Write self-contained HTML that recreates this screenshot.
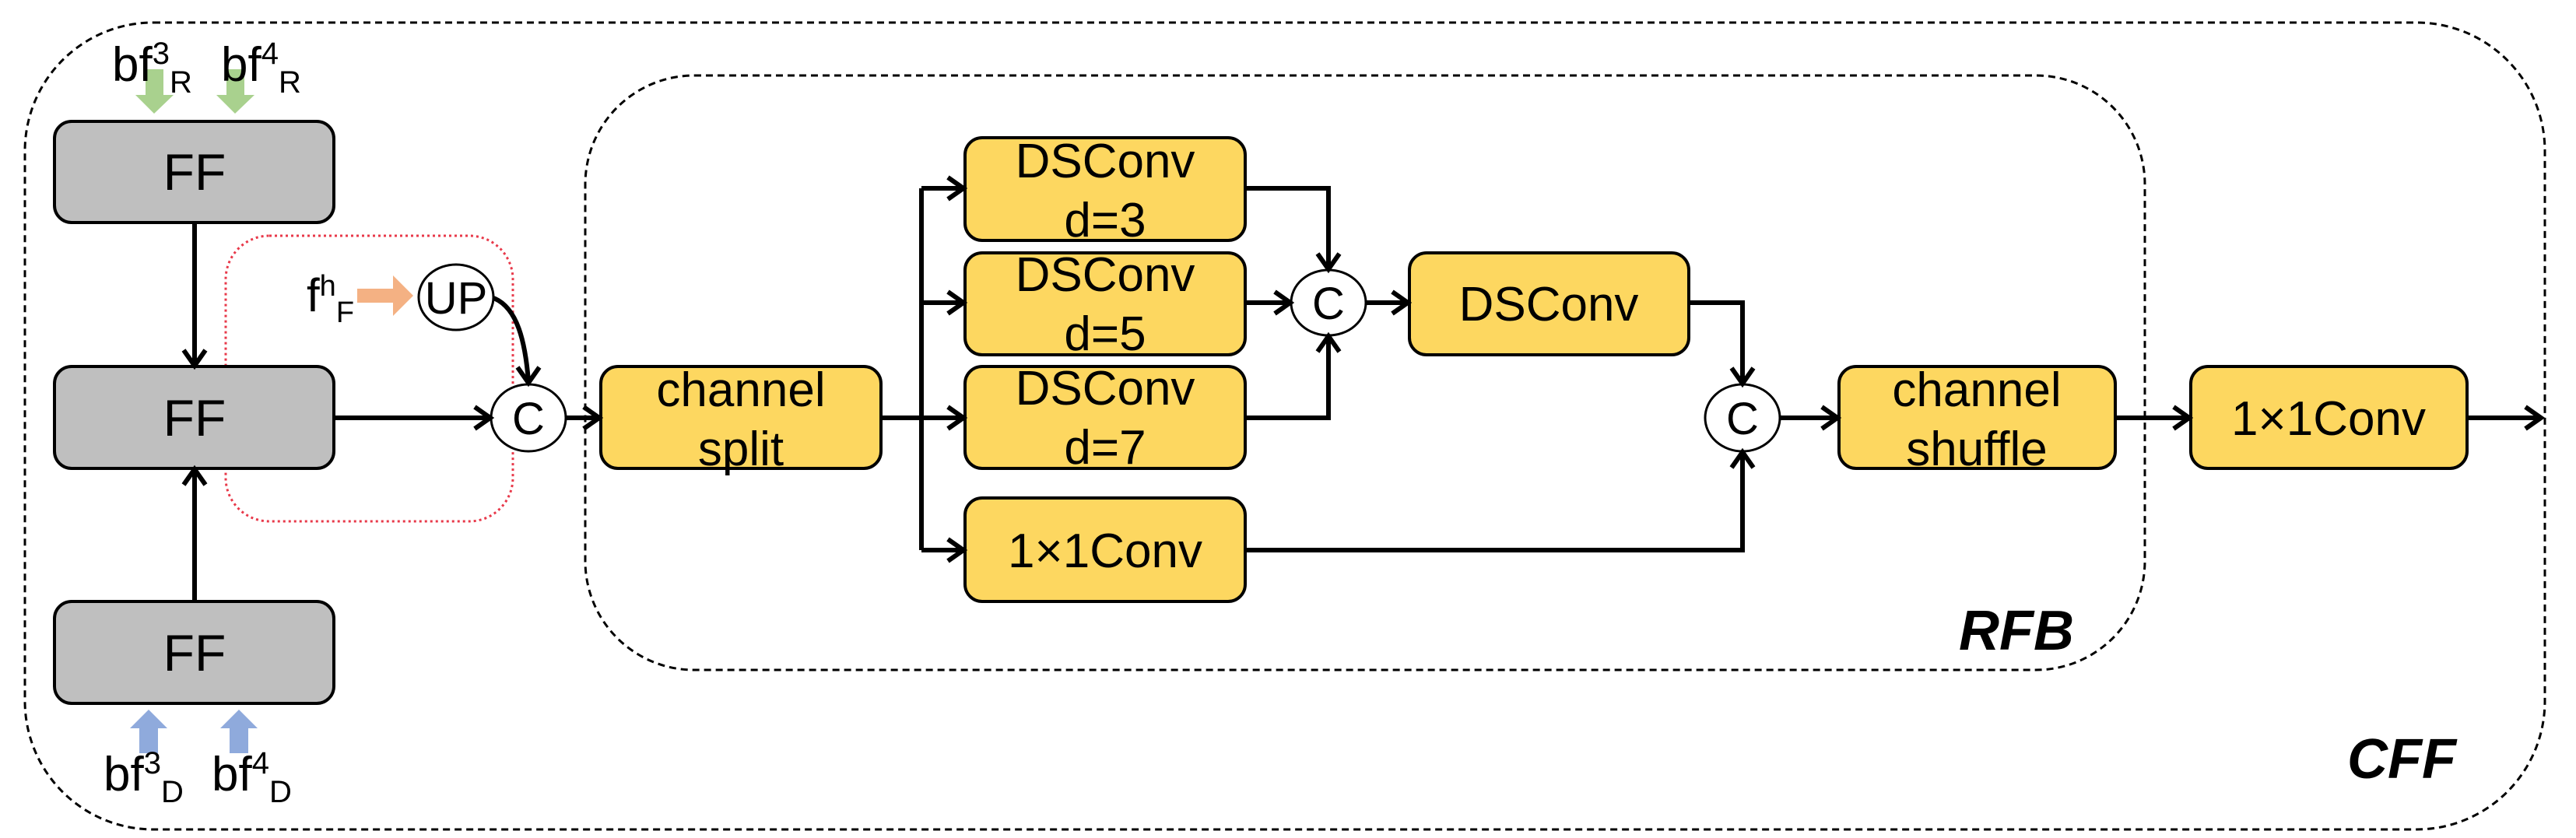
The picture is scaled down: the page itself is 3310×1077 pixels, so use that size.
<!DOCTYPE html>
<html><head><meta charset="utf-8"><style>
html,body{margin:0;padding:0;background:#fff;}
svg{display:block;}
text{font-family:"Liberation Sans",Arial,sans-serif;fill:#000;}
</style></head><body>
<svg width="3310" height="1077" viewBox="0 0 3310 1077" xmlns="http://www.w3.org/2000/svg">
<defs>
<marker id="ah" markerWidth="10" markerHeight="10" refX="8" refY="5" orient="auto" markerUnits="userSpaceOnUse" viewBox="0 0 10 10">
</marker>
</defs>
<!-- outer CFF -->
<rect x="32" y="29" width="3238" height="1037" rx="165" ry="165" fill="none" stroke="#000" stroke-width="3" stroke-dasharray="9,6"/>
<!-- RFB -->
<rect x="752" y="97" width="2004" height="764" rx="140" ry="140" fill="none" stroke="#000" stroke-width="3" stroke-dasharray="9,6"/>
<!-- red dotted -->
<rect x="290" y="303" width="369" height="367" rx="56" ry="56" fill="none" stroke="#e8394a" stroke-width="3" stroke-dasharray="3,4"/>

<!-- FF boxes -->
<g fill="#bfbfbf" stroke="#000" stroke-width="4">
<rect x="70" y="156" width="359" height="130" rx="22"/>
<rect x="70" y="471" width="359" height="131" rx="22"/>
<rect x="70" y="773" width="359" height="131" rx="22"/>
</g>
<g font-size="66" text-anchor="middle">
<text x="250" y="244">FF</text>
<text x="250" y="560">FF</text>
<text x="250" y="862">FF</text>
</g>

<!-- yellow boxes -->
<g fill="#fdd760" stroke="#000" stroke-width="4">
<rect x="772" y="471" width="360" height="131" rx="22"/>
<rect x="1240" y="177" width="360" height="132" rx="22"/>
<rect x="1240" y="325" width="360" height="131" rx="22"/>
<rect x="1240" y="471" width="360" height="131" rx="22"/>
<rect x="1240" y="640" width="360" height="133" rx="22"/>
<rect x="1811" y="325" width="359" height="131" rx="22"/>
<rect x="2363" y="471" width="355" height="131" rx="22"/>
<rect x="2815" y="471" width="355" height="131" rx="22"/>
</g>
<g font-size="62" text-anchor="middle">
<text x="952" y="522">channel</text>
<text x="952" y="598">split</text>
<text x="1420" y="228">DSConv</text>
<text x="1420" y="304">d=3</text>
<text x="1420" y="374">DSConv</text>
<text x="1420" y="450">d=5</text>
<text x="1420" y="520">DSConv</text>
<text x="1420" y="596">d=7</text>
<text x="1420" y="729">1×1Conv</text>
<text x="1990" y="412">DSConv</text>
<text x="2540" y="522">channel</text>
<text x="2540" y="598">shuffle</text>
<text x="2992" y="559">1×1Conv</text>
</g>

<!-- circles -->
<g fill="#fff" stroke="#000" stroke-width="3">
<ellipse cx="586" cy="382" rx="48" ry="42"/>
<ellipse cx="679" cy="537" rx="48" ry="43"/>
<ellipse cx="1707" cy="389" rx="48" ry="42"/>
<ellipse cx="2239" cy="537" rx="48" ry="43"/>
</g>
<g font-size="58" text-anchor="middle">
<text x="586" y="403">UP</text>
<text x="679" y="558">C</text>
<text x="1707" y="410">C</text>
<text x="2239" y="558">C</text>
</g>

<!-- connectors -->
<g fill="none" stroke="#000" stroke-width="6">
<path d="M250 286 V468"/>
<path d="M250 773 V605"/>
<path d="M429 537 H628"/>
<path d="M634 383 C665 395 675 440 679 490"/>
<path d="M727 537 H768"/>
<path d="M1132 537 H1236"/>
<path d="M1184 242 V707"/>
<path d="M1184 242 H1236"/>
<path d="M1184 389 H1236"/>
<path d="M1184 707 H1236"/>
<path d="M1600 242 H1707 V344"/>
<path d="M1600 389 H1656"/>
<path d="M1600 537 H1707 V434"/>
<path d="M1755 389 H1807"/>
<path d="M2170 389 H2239 V491"/>
<path d="M1600 707 H2239 V583"/>
<path d="M2287 537 H2359"/>
<path d="M2718 537 H2811"/>
<path d="M3170 537 H3263"/>
</g>
<!-- arrowheads (open chevrons) -->
<g fill="none" stroke="#000" stroke-width="6" stroke-linejoin="miter">
<path d="M236 450 L250 470 L264 450"/>
<path d="M236 623 L250 603 L264 623"/>
<path d="M610 523 L630 537 L610 551"/>
<path d="M665 472 L679 492 L693 472"/>
<path d="M750 523 L770 537 L750 551"/>
<path d="M1218 228 L1238 242 L1218 256"/>
<path d="M1218 375 L1238 389 L1218 403"/>
<path d="M1218 523 L1238 537 L1218 551"/>
<path d="M1218 693 L1238 707 L1218 721"/>
<path d="M1693 326 L1707 346 L1721 326"/>
<path d="M1638 375 L1658 389 L1638 403"/>
<path d="M1693 452 L1707 432 L1721 452"/>
<path d="M1789 375 L1809 389 L1789 403"/>
<path d="M2225 473 L2239 493 L2253 473"/>
<path d="M2225 601 L2239 581 L2253 601"/>
<path d="M2341 523 L2361 537 L2341 551"/>
<path d="M2793 523 L2813 537 L2793 551"/>
<path d="M3245 523 L3265 537 L3245 551"/>
</g>

<!-- green arrows -->
<g fill="#a9d18e">
<polygon points="187,89 210,89 210,122 223,122 198,146 174,122 187,122"/>
<polygon points="291,89 314,89 314,122 327,122 302,146 278,122 291,122"/>
</g>
<!-- blue arrows -->
<g fill="#8faadc">
<polygon points="191,912 215,936 203,936 203,968 179,968 179,936 167,936"/>
<polygon points="307,912 331,936 319,936 319,968 295,968 295,936 283,936"/>
</g>
<!-- orange arrow -->
<polygon points="459,371 505,371 505,354 531,380 505,406 505,389 459,389" fill="#f4b183"/>

<!-- labels -->
<text x="144" y="104" font-size="62">bf<tspan font-size="40" dy="-22">3</tspan><tspan font-size="40" dy="37">R</tspan></text>
<text x="284" y="104" font-size="62">bf<tspan font-size="40" dy="-22">4</tspan><tspan font-size="40" dy="37">R</tspan></text>
<text x="133" y="1016" font-size="62">bf<tspan font-size="40" dy="-22">3</tspan><tspan font-size="40" dy="37">D</tspan></text>
<text x="272" y="1016" font-size="62">bf<tspan font-size="40" dy="-22">4</tspan><tspan font-size="40" dy="37">D</tspan></text>
<text x="394" y="400" font-size="60">f<tspan font-size="38" dy="-20">h</tspan><tspan font-size="38" dy="34">F</tspan></text>

<text x="2517" y="835" font-size="72" font-weight="bold" font-style="italic">RFB</text>
<text x="3016" y="1000" font-size="72" font-weight="bold" font-style="italic">CFF</text>
</svg>
</body></html>
